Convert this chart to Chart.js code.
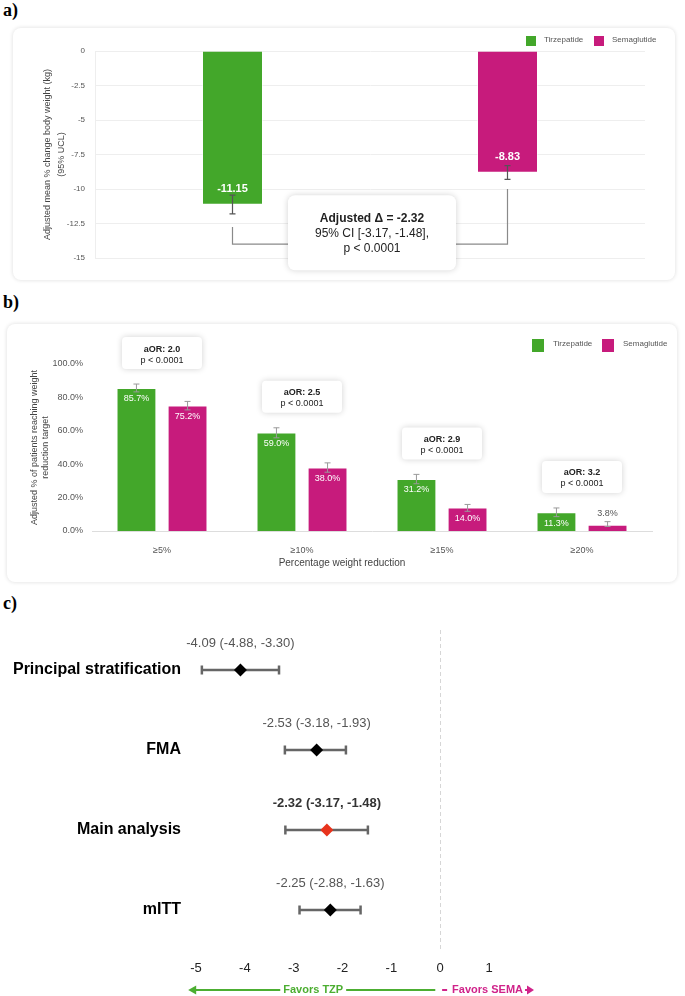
<!DOCTYPE html>
<html>
<head>
<meta charset="utf-8">
<script src="https://cdn.jsdelivr.net/npm/chart.js@4.4.1/dist/chart.umd.min.js"></script>
<style>
  body { margin: 0; background: #fff; width: 685px; height: 996px; position: relative; overflow: hidden; }
  .tag { position: absolute; left: 3px; font: bold 18px "Liberation Serif", "Times New Roman", serif; color: #000; line-height: 20px; }
  .card { position: absolute; background: #fff; border-radius: 8px; box-shadow: 0 0 4px rgba(0,0,0,0.14); }
  canvas { position: absolute; left: 0; top: 0; }
</style>
</head>
<body>
<div class="tag" style="top:0px">a)</div>
<div class="card" style="left:13px;top:28px;width:662px;height:252px"><canvas id="chartA" width="662" height="252"></canvas></div>
<div class="tag" style="top:292px">b)</div>
<div class="card" style="left:7px;top:324px;width:670px;height:258px"><canvas id="chartB" width="670" height="258"></canvas></div>
<div class="tag" style="top:593px">c)</div>
<canvas id="chartC" width="685" height="376" style="top:620px"></canvas>

<script>
// ---- data ----
const groups = ['Tirzepatide', 'Semaglutide'];

// a) adjusted mean % change in body weight
const changeMean = [-11.15, -8.83];
const changeLo = [-11.8, -9.3];
const changeHi = [-10.45, -8.3];
const deltaText = ['Adjusted \u0394 = -2.32', '95% CI [-3.17, -1.48],', 'p < 0.0001'];
const changeTicks = [0, -2.5, -5, -7.5, -10, -12.5, -15];

// b) % reaching weight reduction target
const targets = ['\u22655%', '\u226510%', '\u226515%', '\u226520%'];
const tzpPct = [85.7, 59.0, 31.2, 11.3];
const tzpLo = [83.3, 55.8, 28.3, 8.6];
const tzpHi = [88.0, 61.8, 33.9, 13.8];
const semaPct = [75.2, 38.0, 14.0, 3.8];
const semaLo = [72.5, 35.2, 11.8, 2.7];
const semaHi = [77.6, 40.8, 15.9, 5.6];
const aorVals = ['2.0', '2.5', '2.9', '3.2'];
const pVals = ['p < 0.0001', 'p < 0.0001', 'p < 0.0001', 'p < 0.0001'];

// c) sensitivity analyses
const analyses = ['Principal stratification', 'FMA', 'Main analysis', 'mITT'];
const diffEst = [-4.09, -2.53, -2.32, -2.25];
const diffLo = [-4.88, -3.18, -3.17, -2.88];
const diffHi = [-3.30, -1.93, -1.48, -1.63];
const mainIdx = 2;

const GREEN = '#43a72a';
const MAGENTA = '#c71b7c';
const FONT = '"Liberation Sans", Arial, sans-serif';
Chart.defaults.font.family = FONT;
Chart.defaults.animation = false;

// ---- helpers ----
function errBar(ctx, x, y1, y2, cap, color, width) {
  ctx.save();
  ctx.strokeStyle = color;
  ctx.lineWidth = width;
  ctx.beginPath();
  ctx.moveTo(x, y1); ctx.lineTo(x, y2);
  ctx.moveTo(x - cap, y1); ctx.lineTo(x + cap, y1);
  ctx.moveTo(x - cap, y2); ctx.lineTo(x + cap, y2);
  ctx.stroke();
  ctx.restore();
}

function shadowBox(ctx, x, y, w, h, r) {
  ctx.save();
  ctx.shadowColor = 'rgba(0,0,0,0.18)';
  ctx.shadowBlur = 6;
  ctx.fillStyle = '#fff';
  ctx.beginPath();
  ctx.roundRect(x, y, w, h, r);
  ctx.fill();
  ctx.restore();
}

// small legend drawn from the datasets
const boxLegend = {
  id: 'boxLegend',
  afterDraw(chart, args, opts) {
    const ctx = chart.ctx;
    ctx.save();
    ctx.font = opts.font;
    ctx.textBaseline = 'middle';
    ctx.textAlign = 'left';
    chart.data.datasets.forEach((ds, i) => {
      const x = opts.xs[i];
      ctx.fillStyle = ds.backgroundColor;
      ctx.fillRect(x, opts.y, opts.box[0], opts.box[1]);
      ctx.fillStyle = '#555';
      ctx.fillText(ds.label, x + opts.textDx, opts.y + opts.textDy);
    });
    ctx.restore();
  }
};

// ---- a) ----
const panelA = {
  id: 'panelA',
  afterDatasetsDraw(chart) {
    const ctx = chart.ctx;
    const y = chart.scales.y;
    const xs = [];
    chart.data.datasets.forEach((ds, i) => {
      chart.getDatasetMeta(i).data.forEach((bar, j) => {
        if (ds.data[j] == null) return;
        xs[j] = bar.x;
        errBar(ctx, bar.x, y.getPixelForValue(changeLo[j]), y.getPixelForValue(changeHi[j]), 3, '#555', 1.2);
        ctx.save();
        ctx.fillStyle = '#fff';
        ctx.font = 'bold 11px ' + FONT;
        ctx.textAlign = 'center';
        ctx.textBaseline = 'middle';
        ctx.fillText(ds.data[j].toFixed(2), bar.x, bar.y - 16);
        ctx.restore();
      });
    });
    // bracket between the two groups
    const yb = y.getPixelForValue(-14);
    ctx.save();
    ctx.strokeStyle = '#8a8a8a';
    ctx.lineWidth = 1.2;
    ctx.beginPath();
    ctx.moveTo(xs[0], y.getPixelForValue(-12.75));
    ctx.lineTo(xs[0], yb);
    ctx.lineTo(xs[1], yb);
    ctx.lineTo(xs[1], y.getPixelForValue(-10));
    ctx.stroke();
    ctx.restore();
    // difference box
    const cx = (xs[0] + xs[1]) / 2 + 2;
    const top = y.getPixelForValue(-10.45);
    shadowBox(ctx, cx - 84, top, 168, 75, 7);
    ctx.save();
    ctx.fillStyle = '#222';
    ctx.textAlign = 'center';
    ctx.textBaseline = 'middle';
    deltaText.forEach((t, k) => {
      ctx.font = (k === 0 ? 'bold ' : '') + '12px ' + FONT;
      ctx.fillText(t, cx, top + 23 + k * 15);
    });
    ctx.restore();
  }
};

new Chart(document.getElementById('chartA'), {
  type: 'bar',
  data: {
    labels: groups,
    datasets: [
      { label: groups[0], data: [changeMean[0], null], backgroundColor: GREEN },
      { label: groups[1], data: [null, changeMean[1]], backgroundColor: MAGENTA }
    ]
  },
  options: {
    responsive: false,
    layout: { padding: { top: 23, bottom: 22, left: 0, right: 30 } },
    datasets: { bar: { skipNull: true, categoryPercentage: 0.8, barPercentage: 0.2773,
      borderWidth: 1, borderColor: 'rgba(255,255,255,0.55)' } },
    plugins: {
      legend: { display: false },
      tooltip: { enabled: false },
      boxLegend: { xs: [513, 581], y: 8, box: [10, 10], textDx: 18, textDy: 4, font: '8px ' + FONT }
    },
    scales: {
      x: { display: false },
      y: {
        min: -15, max: 0,
        afterFit: s => { s.width = 82; },
        afterBuildTicks: s => { s.ticks = changeTicks.map(v => ({ value: v })); },
        grid: { color: '#eeeeee', drawTicks: false },
        border: { color: '#eeeeee' },
        ticks: { font: { size: 8 }, color: '#555', padding: 10 },
        title: {
          display: true,
          text: ['Adjusted mean % change body weight (kg)', '(95% UCL)'],
          font: { size: 9, lineHeight: 1.5 }, color: '#444',
          padding: { top: 28, bottom: 0 }
        }
      }
    }
  },
  plugins: [panelA, boxLegend]
});

// ---- b) ----
const panelB = {
  id: 'panelB',
  afterDatasetsDraw(chart) {
    const ctx = chart.ctx;
    const { x, y } = chart.scales;
    const lo = [tzpLo, semaLo], hi = [tzpHi, semaHi];
    chart.data.datasets.forEach((ds, i) => {
      chart.getDatasetMeta(i).data.forEach((bar, j) => {
        const yHi = y.getPixelForValue(hi[i][j]);
        errBar(ctx, bar.x, y.getPixelForValue(lo[i][j]), yHi, 3, '#9a9a9a', 1);
        ctx.save();
        ctx.font = '9px ' + FONT;
        ctx.textAlign = 'center';
        ctx.textBaseline = 'middle';
        const v = ds.data[j];
        if (v < 8) {
          ctx.fillStyle = '#555';
          ctx.fillText(v.toFixed(1) + '%', bar.x, yHi - 8);
        } else {
          ctx.fillStyle = '#fff';
          ctx.fillText(v.toFixed(1) + '%', bar.x, bar.y + 11);
        }
        ctx.restore();
      });
    });
    // odds ratio boxes
    targets.forEach((t, j) => {
      const cx = x.getPixelForValue(j);
      const top = y.getPixelForValue(tzpHi[j]) - 15 - 32;
      shadowBox(ctx, cx - 40, top, 80, 32, 4);
      ctx.save();
      ctx.fillStyle = '#222';
      ctx.textAlign = 'center';
      ctx.textBaseline = 'middle';
      ctx.font = 'bold 9px ' + FONT;
      ctx.fillText('aOR: ' + aorVals[j], cx, top + 12);
      ctx.font = '9px ' + FONT;
      ctx.fillText(pVals[j], cx, top + 23);
      ctx.restore();
    });
    // x axis title, centred on the card
    ctx.save();
    ctx.fillStyle = '#444';
    ctx.font = '10px ' + FONT;
    ctx.textAlign = 'center';
    ctx.textBaseline = 'middle';
    ctx.fillText('Percentage weight reduction', chart.width / 2, 239.5);
    ctx.restore();
  }
};

new Chart(document.getElementById('chartB'), {
  type: 'bar',
  data: {
    labels: targets,
    datasets: [
      { label: groups[0], data: tzpPct, backgroundColor: GREEN },
      { label: groups[1], data: semaPct, backgroundColor: MAGENTA }
    ]
  },
  options: {
    responsive: false,
    layout: { padding: { top: 40, bottom: 0, left: 0, right: 25 } },
    datasets: { bar: { categoryPercentage: 0.73, barPercentage: 0.78,
      borderWidth: 1, borderColor: 'rgba(255,255,255,0.55)' } },
    plugins: {
      legend: { display: false },
      tooltip: { enabled: false },
      boxLegend: { xs: [525, 595], y: 15, box: [12, 13], textDx: 21, textDy: 4.5, font: '8px ' + FONT }
    },
    scales: {
      x: {
        afterFit: s => { s.height = 51; },
        grid: { display: false },
        border: { color: '#dddddd' },
        ticks: { font: { size: 9 }, color: '#555', padding: 6 }
      },
      y: {
        min: 0, max: 100,
        afterFit: s => { s.width = 85; },
        grid: { display: false, drawTicks: false },
        border: { display: false },
        ticks: { stepSize: 20, font: { size: 9 }, color: '#555', padding: 9,
          callback: v => v.toFixed(1) + '%' },
        title: {
          display: true,
          text: ['Adjusted % of patients reaching weight', 'reduction target'],
          font: { size: 9, lineHeight: 1.2 }, color: '#444',
          padding: { top: 22, bottom: 0 }
        }
      }
    }
  },
  plugins: [panelB, boxLegend]
});

// ---- c) ----
const panelC = {
  id: 'panelC',
  beforeDatasetsDraw(chart) {
    const ctx = chart.ctx;
    const { x, y } = chart.scales;
    analyses.forEach((a, i) => {
      const yy = y.getPixelForValue(i);
      const x1 = x.getPixelForValue(diffLo[i]);
      const x2 = x.getPixelForValue(diffHi[i]);
      ctx.save();
      ctx.strokeStyle = '#666';
      ctx.lineWidth = 2.5;
      ctx.beginPath();
      ctx.moveTo(x1, yy); ctx.lineTo(x2, yy);
      ctx.moveTo(x1, yy - 4.5); ctx.lineTo(x1, yy + 4.5);
      ctx.moveTo(x2, yy - 4.5); ctx.lineTo(x2, yy + 4.5);
      ctx.stroke();
      ctx.restore();
    });
  },
  afterDatasetsDraw(chart) {
    const ctx = chart.ctx;
    const { x, y } = chart.scales;
    analyses.forEach((a, i) => {
      ctx.save();
      ctx.textAlign = 'center';
      ctx.textBaseline = 'middle';
      ctx.font = (i === mainIdx ? 'bold ' : '') + '13px ' + FONT;
      ctx.fillStyle = i === mainIdx ? '#333' : '#555';
      const txt = diffEst[i].toFixed(2) + ' (' + diffLo[i].toFixed(2) + ', ' + diffHi[i].toFixed(2) + ')';
      ctx.fillText(txt, x.getPixelForValue(diffEst[i]), y.getPixelForValue(i) - 27);
      ctx.restore();
    });
  },
  afterDraw(chart) {
    const ctx = chart.ctx;
    const x = chart.scales.x;
    const yy = 370;
    ctx.save();
    ctx.font = 'bold 11px ' + FONT;
    ctx.textBaseline = 'middle';
    ctx.textAlign = 'center';
    ctx.lineWidth = 2;
    // favors tirzepatide
    const gx0 = x.getPixelForValue(-5.16), gx1 = x.getPixelForValue(-0.1);
    const gt = 'Favors TZP', gc = x.getPixelForValue(-2.6), gw = ctx.measureText(gt).width;
    ctx.strokeStyle = ctx.fillStyle = '#4cae31';
    ctx.beginPath();
    ctx.moveTo(gx0 + 4, yy); ctx.lineTo(gc - gw / 2 - 3, yy);
    ctx.moveTo(gc + gw / 2 + 3, yy); ctx.lineTo(gx1, yy);
    ctx.stroke();
    ctx.beginPath();
    ctx.moveTo(gx0, yy); ctx.lineTo(gx0 + 8, yy - 4.5); ctx.lineTo(gx0 + 8, yy + 4.5); ctx.closePath();
    ctx.fill();
    ctx.fillText(gt, gc, yy);
    // favors semaglutide
    const mx0 = x.getPixelForValue(0.04);
    const mt = 'Favors SEMA', mw = ctx.measureText(mt).width;
    ctx.strokeStyle = ctx.fillStyle = '#d0238a';
    ctx.beginPath();
    ctx.moveTo(mx0, yy); ctx.lineTo(mx0 + 5, yy);
    ctx.stroke();
    const mStart = mx0 + 10;
    ctx.textAlign = 'left';
    ctx.fillText(mt, mStart, yy);
    const ax = mStart + mw + 2;
    ctx.beginPath();
    ctx.moveTo(ax, yy); ctx.lineTo(ax + 4, yy);
    ctx.stroke();
    ctx.beginPath();
    ctx.moveTo(ax + 9, yy); ctx.lineTo(ax + 2, yy - 4.5); ctx.lineTo(ax + 2, yy + 4.5); ctx.closePath();
    ctx.fill();
    ctx.restore();
  }
};

new Chart(document.getElementById('chartC'), {
  type: 'scatter',
  data: {
    datasets: [{
      label: 'Difference',
      data: analyses.map((a, i) => ({ x: diffEst[i], y: a })),
      pointStyle: 'rectRot',
      pointRadius: 6.5,
      pointBackgroundColor: analyses.map((a, i) => i === mainIdx ? '#e8331c' : '#000'),
      pointBorderColor: analyses.map((a, i) => i === mainIdx ? '#e8331c' : '#000'),
      pointBorderWidth: 0
    }]
  },
  options: {
    responsive: false,
    layout: { padding: { top: 10, bottom: 0, left: 0, right: 196 } },
    plugins: { legend: { display: false }, tooltip: { enabled: false } },
    scales: {
      x: {
        type: 'linear', min: -5, max: 1,
        afterFit: s => { s.height = 46; },
        grid: { drawTicks: false, color: c => c.tick && c.tick.value === 0 ? '#d6d6d6' : 'rgba(0,0,0,0)' },
        border: { display: false, dash: [4, 3] },
        ticks: { stepSize: 1, font: { size: 13 }, color: '#222', padding: 11 }
      },
      y: {
        type: 'category', labels: analyses, offset: true,
        afterFit: s => { s.width = 196; s.paddingTop = 0; s.paddingBottom = 0; },
        grid: { display: false, drawTicks: false },
        border: { display: false },
        ticks: { font: { size: 16, weight: 'bold' }, color: '#000', padding: 15 }
      }
    }
  },
  plugins: [panelC]
});
</script>
</body>
</html>
